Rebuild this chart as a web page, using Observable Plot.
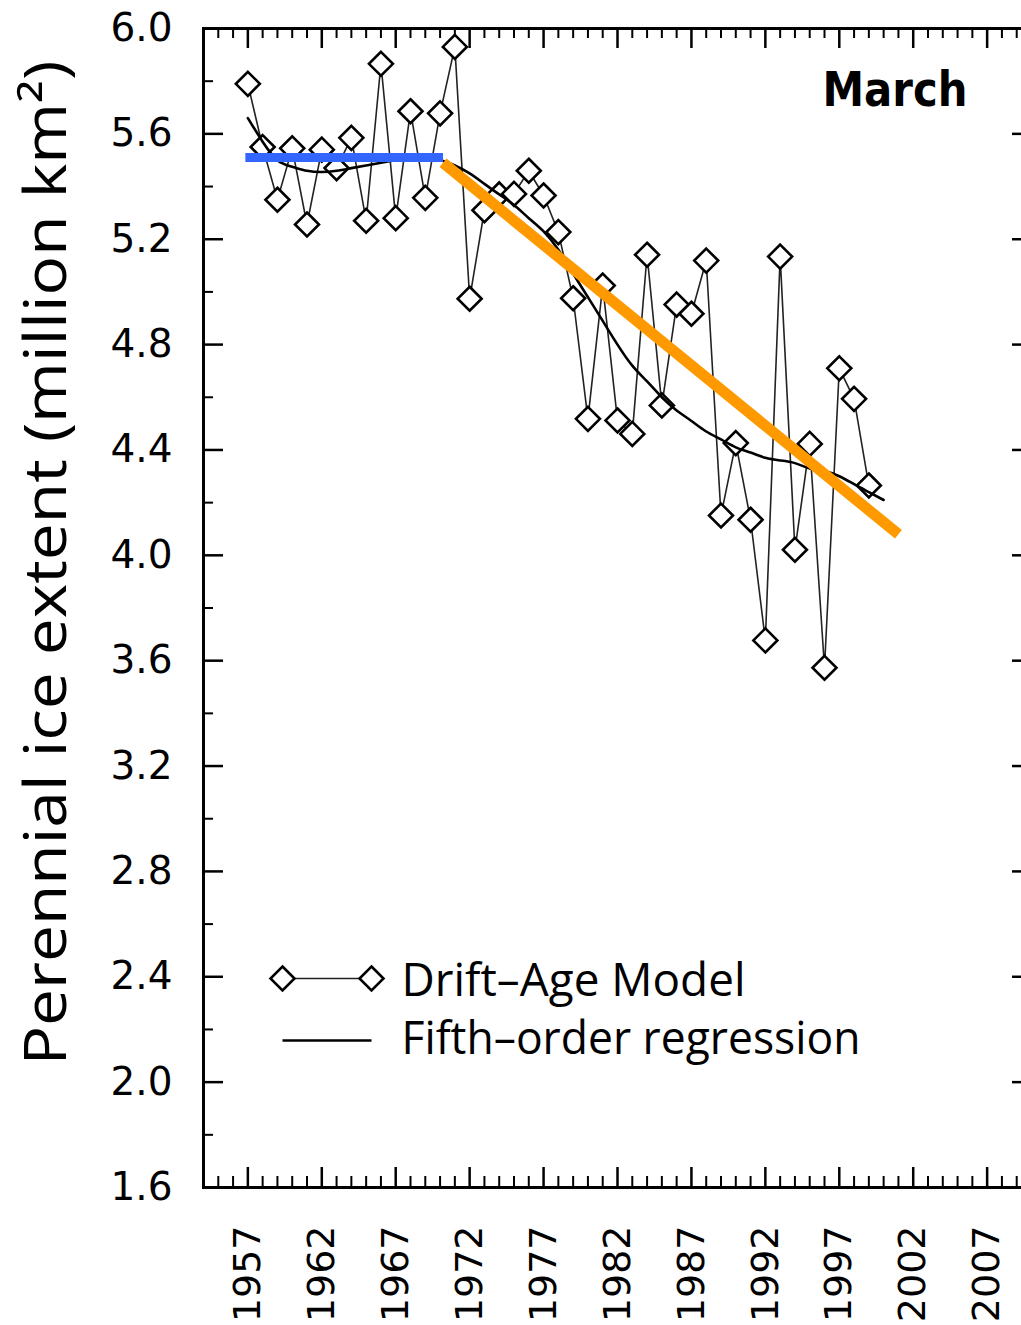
<!DOCTYPE html>
<html>
<head>
<meta charset="utf-8">
<script src="https://cdn.jsdelivr.net/npm/d3@7"></script>
<script src="https://cdn.jsdelivr.net/npm/@observablehq/plot@0.6"></script>
<style>
  html, body { margin: 0; padding: 0; background: white; overflow: hidden; }
  #chart svg { display: block; overflow: hidden; }
</style>
</head>
<body>
<div id="chart"></div>
<script>
// Drift-Age Model, March perennial ice extent (million km²)
const years = [1957,1958,1959,1960,1961,1962,1963,1964,1965,1966,1967,1968,1969,1970,1971,1972,1973,1974,1975,1976,1977,1978,1979,1980,1981,1982,1983,1984,1985,1986,1987,1988,1989,1990,1991,1992,1993,1994,1995,1996,1997,1998,1999];
const extent = [5.79,5.55,5.35,5.545,5.256,5.54,5.47,5.585,5.27,5.866,5.28,5.686,5.357,5.678,5.93,4.974,5.31,5.37,5.372,5.46,5.366,5.227,4.976,4.518,5.024,4.512,4.461,5.141,4.569,4.952,4.917,5.119,4.151,4.426,4.135,3.677,5.134,4.021,4.423,3.573,4.710,4.594,4.265];

// Fifth-order regression curve
const regYears = [1957,1958,1959,1960,1961,1962,1963,1964,1965,1966,1967,1968,1969,1970,1971,1972,1973,1974,1975,1976,1977,1978,1979,1980,1981,1982,1983,1984,1985,1986,1987,1988,1989,1990,1991,1992,1993,1994,1995,1996,1997,1998,1999,2000];
const regValues = [5.66,5.57,5.50,5.475,5.46,5.455,5.46,5.47,5.48,5.49,5.50,5.505,5.505,5.50,5.48,5.45,5.41,5.37,5.33,5.28,5.23,5.16,5.07,4.98,4.89,4.80,4.72,4.66,4.60,4.55,4.51,4.47,4.44,4.41,4.39,4.37,4.36,4.35,4.33,4.32,4.30,4.27,4.24,4.21];

// Overlaid trend segments
const flatYears = [1956.83, 1970.2];
const flatValues = [5.51, 5.51];
const trendYears = [1970.2, 2001.0];
const trendValues = [5.49, 4.08];

// Ticks
const yMajor = [1.6,2.0,2.4,2.8,3.2,3.6,4.0,4.4,4.8,5.2,5.6,6.0];
const yMinor = [1.8,2.2,2.6,3.0,3.4,3.8,4.2,4.6,5.0,5.4,5.8];
const xMajor = [1957,1962,1967,1972,1977,1982,1987,1992,1997,2002,2007];
const xMinor = d3.range(1954, 2011).filter(y => !xMajor.includes(y));

const labels = {
  title: "March",
  yTitle: "Perennial ice extent (million km²)",
  legendModel: "Drift–Age Model",
  legendRegression: "Fifth–order regression"
};

const data = years.map((y, i) => ({year: y, value: extent[i]}));
const reg = regYears.map((y, i) => ({year: y, value: regValues[i]}));
const flat = flatYears.map((y, i) => ({year: y, value: flatValues[i]}));
const trend = trendYears.map((y, i) => ({year: y, value: trendValues[i]}));

const hline = (half) => ({ draw(ctx) { ctx.moveTo(-half, 0); ctx.lineTo(half, 0); } });

const tickFont = "DejaVu Sans, Verdana, sans-serif";
const textFont = "Open Sans, Noto Sans, sans-serif";

const plot = Plot.plot({
  width: 1021,
  height: 1325,
  marginLeft: 203,
  marginTop: 28,
  marginBottom: 138,
  marginRight: -10,
  style: {background: "white", color: "black"},
  x: {domain: [1954, 2010]},
  y: {domain: [1.6, 6.0]},
  marks: [
    // ticks (inward)
    Plot.axisY(yMajor, {anchor: "left", tickSize: -20, tickFormat: () => "", strokeWidth: 2.5, label: null}),
    Plot.axisY(yMinor, {anchor: "left", tickSize: -10, tickFormat: () => "", strokeWidth: 2, label: null}),
    Plot.axisY(yMajor, {anchor: "right", tickSize: -20, tickFormat: () => "", strokeWidth: 2.5, label: null}),
    Plot.axisY(yMinor, {anchor: "right", tickSize: -10, tickFormat: () => "", strokeWidth: 2, label: null}),
    Plot.axisX(xMajor, {anchor: "top", tickSize: -19, tickFormat: () => "", strokeWidth: 2.5, label: null}),
    Plot.axisX(xMinor, {anchor: "top", tickSize: -9, tickFormat: () => "", strokeWidth: 2, label: null}),
    Plot.axisX(xMajor, {anchor: "bottom", tickSize: -20, tickFormat: () => "", strokeWidth: 2.5, label: null}),
    Plot.axisX(xMinor, {anchor: "bottom", tickSize: -11, tickFormat: () => "", strokeWidth: 2, label: null}),
    // tick labels
    Plot.axisY(yMajor, {anchor: "left", tickSize: 0, tickPadding: 31, tickFormat: d3.format(".1f"), fontSize: 39, fontFamily: tickFont, label: null}),
    Plot.axisX(xMajor, {anchor: "bottom", tickSize: 0, tickPadding: 38, tickRotate: -90, tickFormat: d => String(d), fontSize: 38, fontFamily: tickFont, label: null}),
    Plot.frame({stroke: "black", strokeWidth: 3}),
    // data
    Plot.line(data, {x: "year", y: "value", stroke: "#222", strokeWidth: 1.6}),
    Plot.dot(data, {x: "year", y: "value", symbol: "diamond2", r: 10.8, stroke: "black", strokeWidth: 2.6, fill: "white"}),
    Plot.line(reg, {x: "year", y: "value", curve: "natural", stroke: "black", strokeWidth: 2.6}),
    Plot.line(flat, {x: "year", y: "value", stroke: "#3366ff", strokeWidth: 9, strokeLinecap: "butt"}),
    Plot.line(trend, {x: "year", y: "value", stroke: "#ff9900", strokeWidth: 11, strokeLinecap: "butt"}),
    // title
    Plot.text([labels.title], {frameAnchor: "top-right", dx: -64, dy: 77, textAnchor: "end", lineAnchor: "bottom", fontSize: 48, fontWeight: "bold", fontFamily: "DejaVu Sans Condensed, DejaVu Sans, sans-serif", fill: "black", className: "ttl"}),
    // y axis title
    Plot.text([labels.yTitle], {frameAnchor: "left", rotate: -90, dx: -138, dy: -45, textAnchor: "middle", lineAnchor: "bottom", fontSize: 58, fontFamily: textFont, fill: "black", className: "ytitle"}),
    // legend
    Plot.dot([0], {frameAnchor: "top-left", dx: 123.5, dy: 950, symbol: hline(44), stroke: "#222", strokeWidth: 1.6, fill: "none"}),
    Plot.dot([0], {frameAnchor: "top-left", dx: 79, dy: 950, symbol: "diamond2", r: 10.8, stroke: "black", strokeWidth: 2.6, fill: "white"}),
    Plot.dot([0], {frameAnchor: "top-left", dx: 168, dy: 950, symbol: "diamond2", r: 10.8, stroke: "black", strokeWidth: 2.6, fill: "white"}),
    Plot.text([labels.legendModel], {frameAnchor: "top-left", dx: 198, dy: 967, textAnchor: "start", lineAnchor: "bottom", fontSize: 45, fontFamily: textFont, fill: "black", className: "leg1"}),
    Plot.dot([0], {frameAnchor: "top-left", dx: 123.5, dy: 1012, symbol: hline(44.5), stroke: "black", strokeWidth: 2.6, fill: "none"}),
    Plot.text([labels.legendRegression], {frameAnchor: "top-left", dx: 198, dy: 1025, textAnchor: "start", lineAnchor: "bottom", fontSize: 45, fontFamily: textFont, fill: "black", className: "leg2"})
  ]
});

document.getElementById("chart").appendChild(plot);

const fit = (cls, len) => {
  const t = plot.querySelector(`.${cls} text`);
  if (t) { t.setAttribute("textLength", len); t.setAttribute("lengthAdjust", "spacingAndGlyphs"); }
};
fit("ytitle", 1005);
fit("leg1", 344);
fit("leg2", 459);
fit("ttl", 145);
</script>
</body>
</html>
